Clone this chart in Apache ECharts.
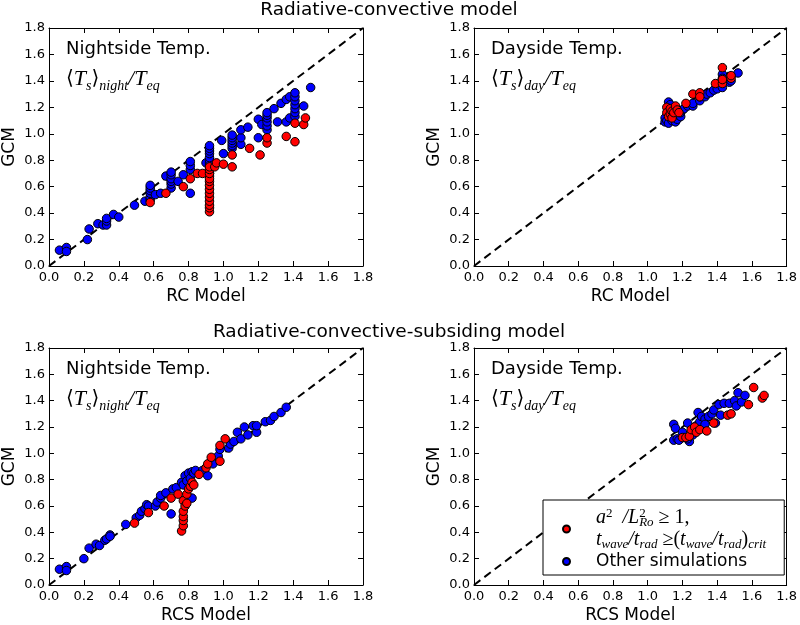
<!DOCTYPE html>
<html><head><meta charset="utf-8">
<script src="https://cdn.jsdelivr.net/npm/echarts@6/dist/echarts.min.js"></script>
<style>html,body{margin:0;padding:0;background:#fff}#c{width:800px;height:625px}</style>
</head><body><div id="c"></div>
<script>
// ---------- data ----------
const tickValues = [0.0,0.2,0.4,0.6,0.8,1.0,1.2,1.4,1.6,1.8];
const oneToOne = [0, 1.8];
const panelTitles = ['Radiative-convective model', 'Radiative-convective-subsiding model'];
const panelXNames = ['RC Model', 'RC Model', 'RCS Model', 'RCS Model'];
const panelLabels = ['Nightside Temp.', 'Dayside Temp.', 'Nightside Temp.', 'Dayside Temp.'];
const panelSubs = ['night', 'day', 'night', 'day'];

const rcNightBlue = [[0.06,0.12],[0.10,0.14],[0.10,0.11],[0.22,0.20],[0.23,0.28],[0.28,0.32],[0.31,0.31],[0.33,0.31],[0.33,0.34],[0.33,0.36],[0.37,0.39],[0.40,0.37],[0.49,0.46],[0.55,0.49],
[0.58,0.50],[0.58,0.52],[0.58,0.55],[0.58,0.57],[0.58,0.59],[0.58,0.61],[0.61,0.54],[0.64,0.55],[0.67,0.68],
[0.70,0.59],[0.70,0.62],[0.70,0.64],[0.70,0.66],[0.70,0.69],[0.70,0.71],[0.74,0.64],[0.77,0.69],
[0.81,0.55],[0.81,0.73],[0.81,0.76],[0.81,0.79],[0.90,0.78],
[0.92,0.68],[0.92,0.70],[0.92,0.73],[0.92,0.76],[0.92,0.78],[0.92,0.80],[0.92,0.82],[0.92,0.85],[0.92,0.87],[0.92,0.89],[0.92,0.91],
[0.99,0.95],[1.00,0.85],[1.05,0.89],[1.05,0.91],[1.05,0.93],[1.05,0.95],[1.05,0.97],[1.05,0.99],
[1.10,0.92],[1.10,0.97],[1.10,1.03],[1.14,1.05],[1.20,0.97],[1.20,1.11],[1.22,1.07],
[1.25,1.03],[1.25,1.06],[1.25,1.09],[1.25,1.12],[1.25,1.14],[1.25,1.16],
[1.29,1.19],[1.31,1.09],[1.33,1.23],[1.36,1.09],[1.36,1.26],[1.38,1.28],[1.38,1.12],
[1.41,1.13],[1.41,1.16],[1.41,1.19],[1.41,1.22],[1.41,1.25],[1.41,1.28],[1.41,1.31],[1.46,1.21],[1.50,1.35]];
const rcNightRed = [[0.58,0.48],[0.67,0.55],[0.77,0.60],[0.81,0.66],[0.85,0.70],[0.88,0.70],
[0.92,0.41],[0.92,0.44],[0.92,0.46],[0.92,0.49],[0.92,0.52],[0.92,0.55],[0.92,0.58],[0.92,0.61],[0.92,0.64],[0.92,0.66],[0.92,0.70],[0.92,0.73],[0.92,0.75],
[0.95,0.75],[0.96,0.78],[1.00,0.77],[1.05,0.75],[1.05,0.84],[1.15,0.89],[1.21,0.84],[1.25,0.93],[1.25,0.97],[1.36,0.98],[1.41,0.94],[1.41,1.08],[1.46,1.07],[1.47,1.12]];

const rcDayBlue = [[1.10,1.09],[1.10,1.12],[1.11,1.10],[1.12,1.08],[1.12,1.24],[1.13,1.22],[1.12,1.15],[1.14,1.10],[1.15,1.13],[1.16,1.09],[1.17,1.11],[1.18,1.14],[1.19,1.13],[1.19,1.16],[1.20,1.18],[1.21,1.19],[1.23,1.21],[1.26,1.21],[1.26,1.23],[1.30,1.25],[1.30,1.28],[1.33,1.28],[1.34,1.30],[1.36,1.31],[1.38,1.33],[1.40,1.34],[1.43,1.35],[1.43,1.45],[1.43,1.42],[1.47,1.39],[1.48,1.40],[1.52,1.46]];
const rcDayRed = [[1.11,1.20],[1.11,1.16],[1.12,1.13],[1.13,1.15],[1.13,1.19],[1.14,1.12],[1.14,1.17],[1.15,1.16],[1.16,1.21],[1.17,1.18],[1.18,1.16],[1.22,1.23],[1.26,1.30],[1.30,1.31],[1.30,1.28],[1.39,1.38],[1.43,1.38],[1.43,1.41],[1.43,1.50],[1.48,1.42],[1.48,1.44]];

const rcsNightBlue = [[0.06,0.12],[0.10,0.14],[0.10,0.11],[0.20,0.20],[0.23,0.28],[0.27,0.31],[0.29,0.30],[0.32,0.34],[0.33,0.35],[0.35,0.38],[0.35,0.37],[0.44,0.46],
[0.50,0.51],[0.52,0.53],[0.53,0.56],[0.55,0.58],[0.56,0.61],[0.57,0.60],[0.61,0.60],[0.62,0.63],[0.64,0.66],[0.64,0.68],[0.67,0.70],[0.70,0.54],[0.71,0.73],[0.73,0.74],[0.76,0.78],[0.77,0.76],[0.78,0.83],[0.79,0.79],[0.80,0.85],[0.81,0.81],[0.82,0.86],[0.82,0.66],[0.83,0.85],[0.84,0.87],[0.88,0.87],[0.91,0.83],[0.94,0.92],[0.97,0.98],[0.98,1.03],[1.03,1.04],[1.04,1.07],[1.06,1.09],[1.08,1.16],[1.10,1.11],[1.12,1.20],[1.14,1.14],[1.17,1.21],[1.19,1.16],[1.19,1.21],[1.24,1.24],[1.27,1.25],[1.29,1.28],[1.33,1.31],[1.36,1.35]];
const rcsNightRed = [[0.49,0.47],[0.57,0.55],[0.66,0.60],[0.70,0.66],[0.74,0.69],[0.76,0.41],[0.77,0.45],[0.77,0.49],[0.77,0.52],[0.77,0.56],[0.77,0.64],[0.78,0.60],[0.79,0.62],[0.79,0.69],[0.80,0.73],[0.81,0.75],[0.82,0.78],[0.83,0.76],[0.86,0.84],[0.90,0.89],[0.91,0.92],[0.93,0.97],[0.98,0.94],[0.98,1.06],[1.01,1.11]];

const rcsDayBlue = [[1.15,1.22],[1.16,1.19],[1.15,1.10],[1.17,1.11],[1.18,1.10],[1.20,1.16],[1.21,1.12],[1.23,1.23],[1.24,1.09],[1.23,1.11],[1.26,1.14],[1.28,1.21],[1.29,1.31],[1.30,1.24],[1.31,1.28],[1.33,1.26],[1.33,1.22],[1.35,1.28],[1.37,1.30],[1.38,1.33],[1.39,1.23],[1.41,1.37],[1.42,1.29],[1.44,1.38],[1.47,1.38],[1.50,1.40],[1.51,1.36],[1.52,1.46],[1.54,1.39],[1.56,1.44]];
const rcsDayRed = [[1.20,1.12],[1.22,1.12],[1.24,1.13],[1.25,1.18],[1.27,1.20],[1.28,1.16],[1.30,1.18],[1.34,1.17],[1.38,1.23],[1.46,1.29],[1.48,1.30],[1.58,1.37],[1.61,1.50],[1.66,1.42],[1.67,1.44]];

const blueSets = [rcNightBlue, rcDayBlue, rcsNightBlue, rcsDayBlue];
const redSets = [rcNightRed, rcDayRed, rcsNightRed, rcsDayRed];

// ---------- layout ----------
const grids = [
  {left: 49, top: 28, width: 314, height: 238},
  {left: 474, top: 28, width: 314, height: 238},
  {left: 49, top: 348, width: 314, height: 238},
  {left: 474, top: 348, width: 314, height: 238}
];
const FONT = 'DejaVu Sans';
const SERIF = 'Liberation Serif';

const xAxes = [], yAxes = [], series = [], titles = [];
grids.forEach((g, i) => {
  const common = {
    gridIndex: i, type: 'value', min: tickValues[0], max: tickValues[tickValues.length-1], interval: 0.2,
    splitLine: {show: false},
    axisLine: {show: true, onZero: false, lineStyle: {color: '#000', width: 1}},
    axisTick: {show: true, inside: true, length: 5, lineStyle: {color: '#000', width: 1}}
  };
  xAxes.push(Object.assign({}, common, {
    position: 'bottom', name: panelXNames[i], nameLocation: 'middle', nameGap: 22,
    nameTextStyle: {fontFamily: FONT, fontSize: 17, color: '#000'},
    axisLabel: {fontFamily: FONT, fontSize: 13, color: '#000', margin: 5, formatter: v => v.toFixed(1)}
  }));
  xAxes.push(Object.assign({}, common, {position: 'top', axisLabel: {show: false}}));
  yAxes.push(Object.assign({}, common, {
    position: 'left', name: 'GCM', nameLocation: 'middle', nameGap: 31,
    nameTextStyle: {fontFamily: FONT, fontSize: 17, color: '#000'},
    axisLabel: {fontFamily: FONT, fontSize: 13, color: '#000', margin: 4, formatter: v => v.toFixed(1)}
  }));
  yAxes.push(Object.assign({}, common, {position: 'right', axisLabel: {show: false}}));

  series.push({
    type: 'line', xAxisIndex: 2*i, yAxisIndex: 2*i, symbol: 'none', silent: true,
    data: oneToOne.map(v => [v, v]),
    lineStyle: {color: '#000', width: 2, type: [8, 5]}, z: 1
  });
  series.push({
    name: 'other', type: 'scatter', xAxisIndex: 2*i, yAxisIndex: 2*i, symbolSize: 8.5,
    data: blueSets[i], itemStyle: {color: '#0000ff', borderColor: '#000', borderWidth: 1, opacity: 1}, z: 2
  });
  series.push({
    name: 'crit', type: 'scatter', xAxisIndex: 2*i, yAxisIndex: 2*i, symbolSize: 8.5,
    data: redSets[i], itemStyle: {color: '#ff0000', borderColor: '#000', borderWidth: 1, opacity: 1}, z: 3
  });

  titles.push({
    text: panelLabels[i], left: g.left + 17, top: g.top + 10, padding: 0,
    textStyle: {fontFamily: FONT, fontSize: 18, fontWeight: 'normal', color: '#000', lineHeight: 22}
  });
  titles.push({
    text: '{br|\u27E8}{mi|T}{sb|s}{br|\u27E9}{sb|' + panelSubs[i] + '}{mi|/T}{sb|eq}',
    left: g.left + 17, top: g.top + 37, padding: 0,
    textStyle: {
      fontWeight: 'normal',
      rich: {
        br: {fontFamily: 'DejaVu Serif', fontWeight: 'normal', fontSize: 20, color: '#000', lineHeight: 28, verticalAlign: 'middle'},
        mi: {fontFamily: SERIF, fontStyle: 'italic', fontWeight: 'normal', fontSize: 22, color: '#000', lineHeight: 28, verticalAlign: 'middle'},
        sb: {fontFamily: SERIF, fontStyle: 'italic', fontWeight: 'normal', fontSize: 14, color: '#000', lineHeight: 14, verticalAlign: 'bottom'}
      }
    }
  });
});

titles.push({text: panelTitles[0], left: 389, textAlign: 'center', top: 0, padding: 0,
  textStyle: {fontFamily: FONT, fontSize: 18.5, fontWeight: 'normal', color: '#000', lineHeight: 20}});
titles.push({text: panelTitles[1], left: 389, textAlign: 'center', top: 322, padding: 0,
  textStyle: {fontFamily: FONT, fontSize: 18.5, fontWeight: 'normal', color: '#000', lineHeight: 20}});

const legendRich = {
  sp: {width: 21, lineHeight: 22},
  mi: {fontFamily: SERIF, fontStyle: 'italic', fontSize: 20, color: '#000', lineHeight: 22, verticalAlign: 'middle'},
  rm: {fontFamily: SERIF, fontSize: 20, color: '#000', lineHeight: 22, verticalAlign: 'middle'},
  sup: {fontFamily: SERIF, fontSize: 13, color: '#000', lineHeight: 12, verticalAlign: 'top'},
  supz: {fontFamily: SERIF, fontSize: 13, color: '#000', lineHeight: 12, verticalAlign: 'top', width: 0},
  sub: {fontFamily: SERIF, fontStyle: 'italic', fontSize: 13, color: '#000', lineHeight: 12, verticalAlign: 'bottom'},
  tx: {fontFamily: FONT, fontSize: 17, color: '#000', lineHeight: 20}
};

const option = {
  backgroundColor: '#fff',
  animation: false,
  title: titles,
  grid: grids.map(g => Object.assign({show: false}, g)),
  xAxis: xAxes,
  yAxis: yAxes,
  legend: {
    data: ['crit', 'other'], orient: 'vertical', left: 543, top: 500,
    padding: [7, 18, 5, 19], itemGap: 2, itemWidth: 7, itemHeight: 7, icon: 'circle',
    borderColor: '#000', borderWidth: 1, backgroundColor: '#fff',
    selectedMode: false,
    formatter: function (name) {
      if (name === 'crit') {
        return '{sp| }{mi|a}{sup|2}{rm|  }{mi|/L}{supz|2}{sub|Ro}{rm| \u2265 1,}\n' +
               '{sp| }{mi|t}{sub|wave}{mi|/t}{sub|rad}{rm| \u2265(}{mi|t}{sub|wave}{mi|/t}{sub|rad}{rm|)}{sub|crit}';
      }
      return '{sp| }{tx|Other simulations}';
    },
    textStyle: {rich: legendRich}
  },
  series: series
};

const chart = echarts.init(document.getElementById('c'), null, {renderer: 'canvas'});
chart.setOption(option);
</script>
</body></html>
